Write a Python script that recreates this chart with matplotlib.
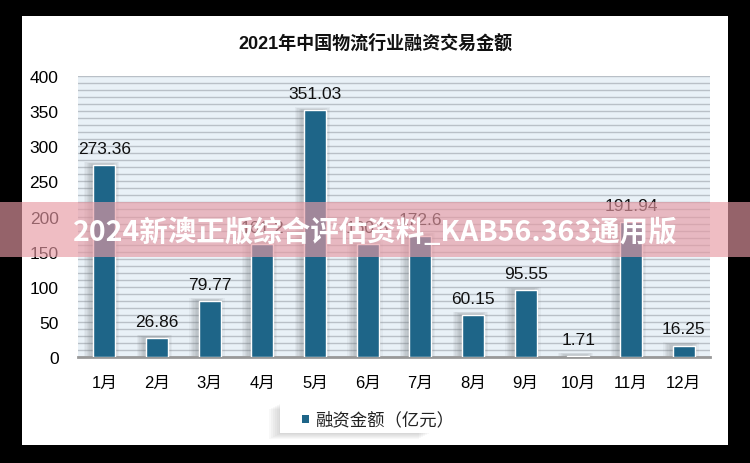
import matplotlib.pyplot as plt
from matplotlib.patches import Rectangle
import numpy as np

plt.rcParams['font.family'] = ['Liberation Sans', 'Noto Sans CJK SC', 'DejaVu Sans']

# data
months = ['1月', '2月', '3月', '4月', '5月', '6月', '7月', '8月', '9月', '10月', '11月', '12月']
amounts = [273.36, 26.86, 79.77, 161.2, 351.03, 160.8, 172.6, 60.15, 95.55, 1.71, 191.94, 16.25]
labels = ['273.36', '26.86', '79.77', '161.2', '351.03', '160.8', '172.6', '60.15', '95.55', '1.71', '191.94', '16.25']
series_name = '融资金额（亿元）'
title = '2021年中国物流行业融资交易金额'
banner_text = '2024新澳正版综合评估资料_KAB56.363通用版'

bar_color = '#1e6588'

fig = plt.figure(figsize=(7.5, 4.64), dpi=100)
fig.patch.set_facecolor('black')

# white panel
fig.patches.append(Rectangle((22 / 750, 1 - 446 / 464), 706 / 750, 429 / 464,
                             transform=fig.transFigure, facecolor='white',
                             edgecolor='none', zorder=-5))

ax = fig.add_axes([78 / 750, 1 - 358 / 464, 632 / 750, 281 / 464])
ax.set_zorder(1)
ax.set_facecolor('#e9f1f7')
x = np.arange(len(months))

# soft shadow behind bars
for k in range(6):
    ax.bar(x - 0.05, np.array(amounts) + 1.5 + k * 0.6, width=0.42 + 0.05 * k,
           color='#6f7479', alpha=0.07, zorder=2, linewidth=0)

ax.bar(x, amounts, width=0.42, color=bar_color, edgecolor='white',
       linewidth=1.0, zorder=3, label=series_name)

for xi, v, t in zip(x, amounts, labels):
    ax.text(xi, v + 13, t, ha='center', va='bottom', fontsize=12.5,
            color='#111111', zorder=4)

ax.set_xlim(-0.5, 11.5)
ax.set_ylim(0, 400)
ax.set_yticks(np.arange(0, 401, 50))
ax.set_yticks(np.arange(0, 401, 10), minor=True)
ax.yaxis.grid(True, which='both', color='#b9c0c7', linewidth=1.0, zorder=1)
ax.set_axisbelow(True)
ax.set_xticks(x)
ax.set_xticklabels(months, fontsize=12)
ax.tick_params(axis='y', labelsize=12.5, length=0, pad=14, which='both')
ax.tick_params(axis='x', length=0, pad=13)
for s in ['top', 'right', 'left']:
    ax.spines[s].set_visible(False)
ax.spines['bottom'].set_color('#999999')
ax.spines['bottom'].set_linewidth(2)

fig.text(0.5, 1 - 44 / 464, title, ha='center', va='center', fontsize=13,
         fontweight='bold', color='#111111')

# legend box with shadow (left and bottom)
for k in range(6):
    fig.patches.append(Rectangle(((279 - k * 2) / 750, 1 - (435 + k) / 464),
                                 150 / 750, 30 / 464,
                                 transform=fig.transFigure, facecolor='#7a7a7a',
                                 alpha=0.05, edgecolor='none', zorder=1))
fig.patches.append(Rectangle((280 / 750, 1 - 434 / 464), 190 / 750, 29 / 464,
                             transform=fig.transFigure, facecolor='white',
                             edgecolor='none', zorder=2))
fig.patches.append(Rectangle((302 / 750, 1 - 424 / 464), 7 / 750, 8 / 464,
                             transform=fig.transFigure, facecolor=bar_color,
                             edgecolor='none', zorder=3))
fig.text(315 / 750, 1 - 420 / 464, series_name, ha='left', va='center',
         fontsize=12.5, color='#222222', zorder=4)

# pink banner overlay
fig.patches.append(Rectangle((0, 1 - 258 / 464), 1, 55 / 464,
                             transform=fig.transFigure, facecolor='#e79aa4',
                             alpha=0.65, edgecolor='none', zorder=10))
fig.text(0.5, 1 - 233 / 464, banner_text, ha='center', va='center',
         fontsize=20.5, fontweight='bold', color='white', zorder=11,
         family=['Noto Sans CJK SC', 'DejaVu Sans'])

fig.savefig('out.png', dpi=100, facecolor=fig.get_facecolor())
